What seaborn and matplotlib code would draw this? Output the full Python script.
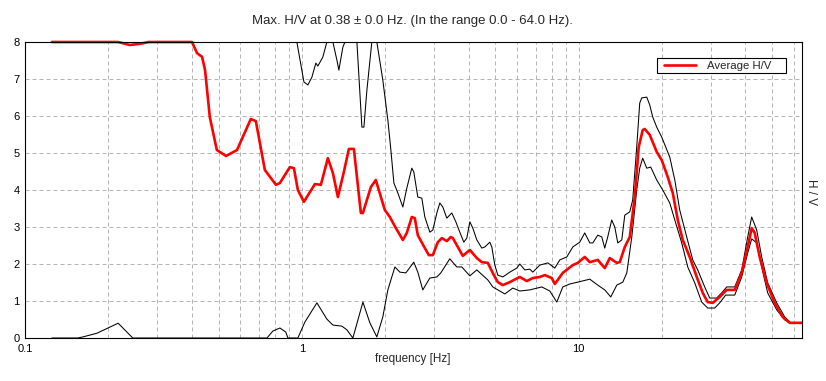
import numpy as np
import pandas as pd
import matplotlib
matplotlib.use("Agg")
import matplotlib.pyplot as plt
from matplotlib.ticker import FixedLocator, NullFormatter
from matplotlib.legend_handler import HandlerLine2D
from matplotlib.lines import Line2D
import seaborn as sns

# Average H/V curve
avg_freq = [0.125, 0.217, 0.230, 0.239, 0.260, 0.280, 0.401, 0.418, 0.436, 0.447, 0.465,
            0.493, 0.532, 0.583, 0.654, 0.682, 0.735, 0.806, 0.833, 0.905, 0.936, 0.967,
            1.017, 1.114, 1.171, 1.241, 1.294, 1.349, 1.418, 1.478, 1.541, 1.633, 1.661,
            1.775, 1.849, 1.993, 2.078, 2.185, 2.315, 2.393, 2.494, 2.557, 2.622, 2.780,
            2.874, 2.971, 3.097, 3.202, 3.337, 3.450, 3.508, 3.657, 3.812, 4.041, 4.283,
            4.465, 4.693, 4.934, 5.101, 5.317, 5.636, 6.124, 6.492, 6.823, 7.232, 7.540,
            7.990, 8.192, 8.398, 8.755, 9.513, 9.917, 10.51, 10.96, 11.71, 12.41, 12.94,
            13.72, 14.06, 14.66, 15.28, 15.93, 16.46, 17.02, 17.31, 18.04, 19.12, 19.93,
            20.96, 21.85, 22.78, 23.74, 25.16, 26.67, 28.03, 29.22, 30.46, 32.28, 34.21,
            36.58, 38.77, 40.75, 42.12, 43.19, 45.02, 47.71, 51.00, 54.52, 57.75, 64.0]
avg_hv = [8.0, 8.0, 7.95, 7.92, 7.95, 8.0, 8.0, 7.7, 7.6, 7.24, 5.97,
          5.08, 4.92, 5.08, 5.92, 5.86, 4.54, 4.14, 4.19, 4.62, 4.59, 4.0,
          3.68, 4.16, 4.14, 4.86, 4.46, 3.81, 4.49, 5.11, 5.11, 3.38, 3.38,
          4.08, 4.27, 3.46, 3.27, 2.97, 2.65, 2.84, 3.27, 3.24, 2.78, 2.43,
          2.24, 2.24, 2.59, 2.70, 2.62, 2.73, 2.70, 2.46, 2.22, 2.38, 2.16,
          2.05, 2.03, 1.70, 1.51, 1.43, 1.51, 1.65, 1.54, 1.62, 1.65, 1.70,
          1.62, 1.46, 1.57, 1.76, 1.97, 2.03, 2.19, 2.05, 2.11, 1.89, 2.16,
          2.03, 2.05, 2.46, 2.73, 3.81, 5.16, 5.62, 5.65, 5.49, 5.03, 4.81,
          4.35, 3.92, 3.19, 2.65, 2.19, 1.65, 1.22, 0.97, 0.95, 1.11, 1.30,
          1.30, 1.76, 2.46, 2.97, 2.84, 2.19, 1.49, 0.95, 0.57, 0.41, 0.41]

# Upper curve (values above 8 are off the chart)
up_freq = [0.125, 0.93, 0.959, 1.017, 1.051, 1.087, 1.123, 1.142, 1.190, 1.231, 1.26,
           1.294, 1.338, 1.360, 1.406, 1.430, 1.50, 1.580, 1.647, 1.675, 1.717, 1.789,
           1.83, 1.865, 1.960, 2.044, 2.096, 2.149, 2.221, 2.315, 2.393, 2.494, 2.536,
           2.622, 2.711, 2.780, 2.898, 2.971, 3.072, 3.149, 3.228, 3.337, 3.479, 3.597,
           3.718, 3.844, 3.941, 4.041, 4.143, 4.283, 4.465, 4.578, 4.772, 4.852, 4.975,
           5.101, 5.317, 5.636, 5.974, 6.124, 6.384, 6.655, 6.823, 7.232, 7.729, 8.192,
           8.539, 9.051, 9.513, 10.08, 10.51, 10.96, 11.24, 11.71, 12.11, 12.41, 12.72,
           13.15, 13.49, 13.83, 14.30, 14.66, 15.28, 15.66, 16.19, 16.60, 16.88, 17.60,
           18.04, 18.50, 19.12, 19.93, 21.31, 22.22, 23.15, 24.54, 25.80, 26.89, 28.50,
           29.71, 31.49, 32.82, 34.21, 36.58, 38.77, 40.75, 42.12, 43.91, 45.77, 48.11,
           51.86, 55.43, 58.23, 64.0]
up_hv = [9.0, 9.0, 8.0, 6.92, 6.84, 7.05, 7.43, 7.35, 7.59, 8.0, 8.3,
         8.0, 7.51, 7.24, 7.86, 8.0, 9.0, 8.0, 5.70, 5.70, 6.70, 8.0,
         8.5, 8.0, 6.97, 5.89, 5.08, 4.19, 3.92, 3.54, 4.05, 4.59, 4.49,
         3.81, 3.78, 3.27, 2.86, 2.92, 3.38, 3.65, 3.54, 3.24, 3.38, 3.14,
         2.86, 2.59, 2.70, 3.14, 2.97, 2.65, 2.43, 2.46, 2.59, 2.46, 1.97,
         1.70, 1.65, 1.78, 1.89, 2.0, 1.84, 1.86, 1.78, 1.97, 2.03, 1.89,
         2.11, 2.19, 2.46, 2.59, 2.84, 2.57, 2.57, 2.78, 2.73, 2.43, 2.73,
         3.19, 3.0, 2.57, 2.65, 3.32, 3.41, 3.73, 5.16, 6.35, 6.49, 6.51,
         6.3, 5.97, 5.70, 5.43, 4.89, 4.27, 3.46, 2.73, 2.11, 1.84, 1.38,
         1.08, 1.08, 1.22, 1.38, 1.38, 1.84, 2.73, 3.27, 2.92, 2.19, 1.49,
         0.95, 0.57, 0.41, 0.41]

# Lower curve
low_freq = [0.125, 0.155, 0.162, 0.182, 0.217, 0.245, 0.748, 0.786, 0.833, 0.875, 0.890,
            0.967, 1.025, 1.133, 1.231, 1.294, 1.395, 1.454, 1.528, 1.661, 1.760, 1.865,
            1.960, 2.044, 2.167, 2.259, 2.374, 2.536, 2.622, 2.733, 2.898, 3.072, 3.175,
            3.421, 3.627, 3.781, 4.041, 4.283, 4.693, 4.892, 5.406, 5.778, 6.124, 6.655,
            7.353, 7.859, 8.329, 8.755, 9.280, 9.917, 10.96, 11.71, 12.41, 13.05, 13.72,
            14.42, 14.91, 15.54, 16.19, 16.60, 17.02, 17.60, 18.19, 19.12, 20.10, 21.31,
            22.22, 23.54, 24.75, 26.23, 27.80, 29.22, 30.97, 32.28, 33.93, 36.58, 38.77,
            40.75, 42.12, 43.91, 45.77, 48.11, 51.86, 55.43, 58.23, 64.0]
low_hv = [0.0, 0.0, 0.03, 0.13, 0.40, 0.0, 0.0, 0.19, 0.27, 0.16, 0.0,
          0.0, 0.43, 0.95, 0.51, 0.35, 0.32, 0.22, 0.0, 0.97, 0.41, 0.03,
          0.57, 1.30, 1.92, 1.78, 1.76, 2.05, 1.78, 1.30, 1.62, 1.65, 1.76,
          2.14, 1.92, 1.92, 1.68, 1.84, 1.57, 1.38, 1.19, 1.35, 1.27, 1.30,
          1.38, 1.27, 0.97, 1.38, 1.46, 1.51, 1.59, 1.43, 1.30, 1.11, 1.43,
          1.51, 1.76, 2.73, 4.0, 4.59, 4.86, 4.59, 4.62, 4.27, 4.0, 3.65,
          3.19, 2.57, 1.92, 1.49, 0.97, 0.81, 0.81, 0.95, 1.16, 1.16, 1.65,
          2.30, 2.68, 2.57, 1.92, 1.22, 0.76, 0.49, 0.41, 0.41]

x_major = [0.1, 1, 10]
x_major_labels = ["0.1", "1", "10"]
x_minor = [0.2, 0.3, 0.4, 0.5, 0.6, 0.7, 0.8, 0.9,
           2, 3, 4, 5, 6, 7, 8, 9, 20, 30, 40, 50, 60]
y_ticks = [0, 1, 2, 3, 4, 5, 6, 7, 8]

sns.set_style("white")
plt.rcParams['font.family'] = ['Liberation Sans', 'DejaVu Sans']
plt.rcParams['font.size'] = 8

fig = plt.figure(figsize=(8.26, 3.81), dpi=100)
ax = fig.add_axes([25 / 826, 1 - 338 / 381, 777 / 826, 296 / 381])

sns.lineplot(x=up_freq, y=up_hv, ax=ax, color='black', linewidth=0.75,
             estimator=None, sort=False)
sns.lineplot(x=low_freq, y=low_hv, ax=ax, color='black', linewidth=0.75,
             estimator=None, sort=False, clip_on=False)
sns.lineplot(x=avg_freq, y=avg_hv, ax=ax, color='#ff0000', linewidth=1.9,
             estimator=None, sort=False, clip_on=False, label='Average H/V')

ax.set_xscale('log')
ax.set_xlim(0.1, 64)
ax.set_ylim(0, 8)
ax.xaxis.set_major_locator(FixedLocator(x_major))
ax.set_xticklabels(x_major_labels)
ax.xaxis.set_minor_locator(FixedLocator(x_minor))
ax.xaxis.set_minor_formatter(NullFormatter())
ax.set_yticks(y_ticks)
ax.set_yticklabels([str(v) for v in y_ticks])
ax.tick_params(which='both', length=0, pad=4, labelsize=8, colors='black')

grid_kw = dict(color='#b4b4b4', linewidth=0.72, linestyle=(0, (4, 3)))
ax.grid(True, which='both', axis='x', **grid_kw)
ax.grid(True, which='major', axis='y', **grid_kw)
ax.set_axisbelow(True)

for sp in ax.spines.values():
    sp.set_visible(True)
    sp.set_color('black')
    sp.set_linewidth(0.8)

ax.set_xlabel('')
ax.set_ylabel('')
fig.text(412 / 826, 1 - 21 / 381, 'Max. H/V at 0.38 \u00b1 0.0 Hz. (In the range 0.0 - 64.0 Hz).',
         ha='center', va='center', fontsize=9.5)
fig.text(413 / 826, 1 - 359 / 381, 'frequency [Hz]', ha='center', va='center', fontsize=8.4)
fig.text(811 / 826, 1 - 192 / 381, 'H / V', ha='center', va='center', rotation=270, fontsize=8.4)

# legend: line inset from the box edge, wider box like the original
handles, labels = ax.get_legend_handles_labels()
leg = ax.legend(handles, [labels[0] + '    '], loc='upper right',
                bbox_to_anchor=(0.9794, 0.9459), borderaxespad=0,
                fancybox=False, edgecolor='black', framealpha=1, handlelength=3.7,
                handletextpad=0.45, borderpad=0.22, fontsize=8.2, numpoints=2,
                handler_map={Line2D: HandlerLine2D(marker_pad=0.45)})
leg.get_frame().set_linewidth(0.8)

fig.savefig('out.png', dpi=100)
